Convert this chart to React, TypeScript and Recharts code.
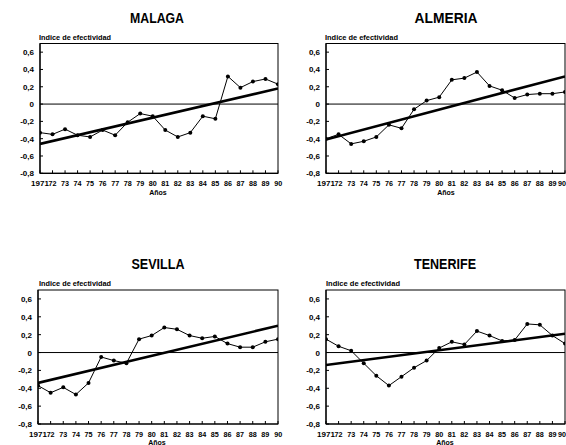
import React from 'react';
import { LineChart, Line, XAxis, YAxis, ReferenceLine } from 'recharts';

// Years covered by every series
const years = [
  1971, 1972, 1973, 1974, 1975, 1976, 1977, 1978, 1979, 1980,
  1981, 1982, 1983, 1984, 1985, 1986, 1987, 1988, 1989, 1990,
];

// Effectiveness index per province
const malaga = [
  -0.33, -0.35, -0.29, -0.36, -0.38, -0.3, -0.36, -0.21, -0.11, -0.14,
  -0.3, -0.38, -0.33, -0.14, -0.17, 0.32, 0.19, 0.26, 0.29, 0.23,
];
const almeria = [
  -0.4, -0.35, -0.46, -0.43, -0.38, -0.24, -0.28, -0.06, 0.04, 0.08,
  0.28, 0.3, 0.37, 0.21, 0.16, 0.07, 0.11, 0.12, 0.12, 0.14,
];
const sevilla = [
  -0.37, -0.45, -0.39, -0.47, -0.34, -0.05, -0.09, -0.12, 0.15, 0.19,
  0.28, 0.26, 0.19, 0.16, 0.18, 0.1, 0.06, 0.06, 0.12, 0.15,
];
const tenerife = [
  0.15, 0.07, 0.02, -0.12, -0.26, -0.37, -0.27, -0.17, -0.09, 0.05,
  0.12, 0.09, 0.24, 0.19, 0.13, 0.14, 0.32, 0.31, 0.19, 0.1,
];

// Linear trend: value at first and last year
const malagaTrend = [-0.46, 0.18];
const almeriaTrend = [-0.41, 0.32];
const sevillaTrend = [-0.34, 0.3];
const tenerifeTrend = [-0.14, 0.21];

const titles = ['MALAGA', 'ALMERIA', 'SEVILLA', 'TENERIFE'];
const yTicks = [-0.8, -0.6, -0.4, -0.2, 0, 0.2, 0.4, 0.6];
const yAxisTitle = 'Indice de efectividad';
const xAxisTitle = 'Años';

const FONT = '"Liberation Sans", Arial, sans-serif';

const buildRows = (values: number[], trend: number[]) =>
  years.map((year, i) => ({
    year,
    value: values[i],
    trend: i === 0 ? trend[0] : i === years.length - 1 ? trend[1] : null,
  }));

const fmtY = (v: number) => (v === 0 ? '0' : v.toFixed(1).replace('.', ','));
const fmtX = (v: number) => (v === 1971 ? '1971' : String(v).slice(2));

const XTick = (props: any) => {
  const { x, y, payload, edge } = props;
  const isFirst = payload.value === years[0];
  const isLast = payload.value === years[years.length - 1];
  const label = fmtX(payload.value);
  // keep the closing label inside the panel when the plot reaches its edge
  const lastEnd = Math.min(x + 4.2, edge);
  return (
    <g>
      <line x1={x} x2={x} y1={y} y2={y - 3} stroke="#000" strokeWidth={1} />
      <text
        x={isLast ? lastEnd : x}
        y={y + 12.5}
        textAnchor={isLast ? 'end' : 'middle'}
        fontFamily={FONT}
        fontWeight="bold"
        fontSize={8}
        textLength={isFirst ? undefined : 8}
        lengthAdjust="spacingAndGlyphs"
        fill="#000"
      >
        {label}
      </text>
    </g>
  );
};

const YTick = (props: any) => {
  const { x, y, payload } = props;
  return (
    <g>
      <line x1={x} x2={x + 3} y1={y} y2={y} stroke="#000" strokeWidth={1} />
      <text
        x={x - 6}
        y={y + 3}
        textAnchor="end"
        fontFamily={FONT}
        fontWeight="bold"
        fontSize={8}
        fill="#000"
      >
        {fmtY(payload.value)}
      </text>
    </g>
  );
};

type PanelProps = {
  title: string;
  values: number[];
  trend: number[];
  left: number;
  top: number;
  width: number;
  height: number;
  plot: { x0: number; x1: number; y0: number; y1: number };
  titleX: number;
  titleY: number;
  titleLen: number;
  labelX: number;
  labelY: number;
  labelLen: number;
  anosX: number;
  anosY: number;
};

function Panel(p: PanelProps) {
  const rows = buildRows(p.values, p.trend);
  const yAxisWidth = p.plot.x0 - p.left;
  const xAxisHeight = p.top + p.height - p.plot.y1;
  const fx = p.plot.x0 - p.left;
  const fy = p.plot.y0 - p.top;
  const fw = p.plot.x1 - p.plot.x0;
  const fh = p.plot.y1 - p.plot.y0;
  return (
    <div style={{ position: 'absolute', left: p.left, top: p.top, width: p.width, height: p.height }}>
      <LineChart
        width={p.width}
        height={p.height}
        data={rows}
        margin={{ top: p.plot.y0 - p.top, right: p.left + p.width - p.plot.x1, bottom: 0, left: 0 }}
      >
        <XAxis
          dataKey="year"
          type="number"
          domain={[1971, 1990]}
          ticks={years}
          interval={0}
          height={xAxisHeight}
          tickSize={0}
          tickMargin={0}
          tickLine={false}
          axisLine={{ stroke: '#000', strokeWidth: 1.2 }}
          tick={<XTick edge={p.width} />}
          allowDataOverflow
        />
        <YAxis
          type="number"
          domain={[-0.8, 0.7]}
          ticks={yTicks}
          interval={0}
          width={yAxisWidth}
          tickSize={0}
          tickMargin={0}
          tickLine={false}
          axisLine={{ stroke: '#000', strokeWidth: 1.2 }}
          tick={<YTick />}
          allowDataOverflow
        />
        <ReferenceLine y={0} stroke="#000" strokeWidth={1} />
        <Line
          dataKey="value"
          stroke="#000"
          strokeWidth={1}
          dot={{ r: 2, fill: '#000', stroke: '#000', strokeWidth: 0 }}
          isAnimationActive={false}
        />
        <Line
          dataKey="trend"
          stroke="#000"
          strokeWidth={2.6}
          dot={false}
          connectNulls
          isAnimationActive={false}
        />
      </LineChart>
      <svg
        width={p.width}
        height={p.height}
        style={{ position: 'absolute', left: 0, top: 0, pointerEvents: 'none' }}
      >
        {/* plot frame */}
        <rect x={fx} y={fy} width={fw} height={fh} fill="none" stroke="#000" strokeWidth={1} />
        <text
          x={p.titleX}
          y={p.titleY}
          textAnchor="middle"
          fontFamily={FONT}
          fontWeight="bold"
          fontSize={14}
          textLength={p.titleLen}
          lengthAdjust="spacingAndGlyphs"
          fill="#000"
        >
          {p.title}
        </text>
        <text
          x={p.labelX}
          y={p.labelY}
          fontFamily={FONT}
          fontWeight="bold"
          fontSize={6.5}
          textLength={p.labelLen}
          lengthAdjust="spacingAndGlyphs"
          fill="#000"
        >
          {yAxisTitle}
        </text>
        <text
          x={p.anosX}
          y={p.anosY}
          textAnchor="middle"
          fontFamily={FONT}
          fontWeight="bold"
          fontSize={7}
          fill="#000"
        >
          {xAxisTitle}
        </text>
      </svg>
    </div>
  );
}

export default function App() {
  return (
    <div
      style={{
        position: 'absolute',
        left: 0,
        top: 0,
        width: 566,
        height: 445,
        background: '#fff',
        overflow: 'hidden',
      }}
    >
      <Panel
        title={titles[0]}
        values={malaga}
        trend={malagaTrend}
        left={0}
        top={0}
        width={283}
        height={222}
        plot={{ x0: 40, x1: 278, y0: 43.5, y1: 173.3 }}
        titleX={157}
        titleY={22.5}
        titleLen={54}
        labelX={39}
        labelY={39.5}
        labelLen={72}
        anosX={158}
        anosY={195}
      />
      <Panel
        title={titles[1]}
        values={almeria}
        trend={almeriaTrend}
        left={283}
        top={0}
        width={283}
        height={222}
        plot={{ x0: 326, x1: 565, y0: 43.5, y1: 173.3 }}
        titleX={163}
        titleY={22.5}
        titleLen={63}
        labelX={42}
        labelY={39.5}
        labelLen={73}
        anosX={163}
        anosY={195}
      />
      <Panel
        title={titles[2]}
        values={sevilla}
        trend={sevillaTrend}
        left={0}
        top={222}
        width={283}
        height={223}
        plot={{ x0: 38, x1: 278, y0: 290, y1: 424 }}
        titleX={158}
        titleY={46.7}
        titleLen={53}
        labelX={39}
        labelY={63.5}
        labelLen={72}
        anosX={157}
        anosY={222.5}
      />
      <Panel
        title={titles[3]}
        values={tenerife}
        trend={tenerifeTrend}
        left={283}
        top={222}
        width={283}
        height={223}
        plot={{ x0: 326, x1: 565, y0: 290, y1: 424 }}
        titleX={162}
        titleY={46.7}
        titleLen={62}
        labelX={43}
        labelY={63.5}
        labelLen={74}
        anosX={162}
        anosY={222.5}
      />
    </div>
  );
}
